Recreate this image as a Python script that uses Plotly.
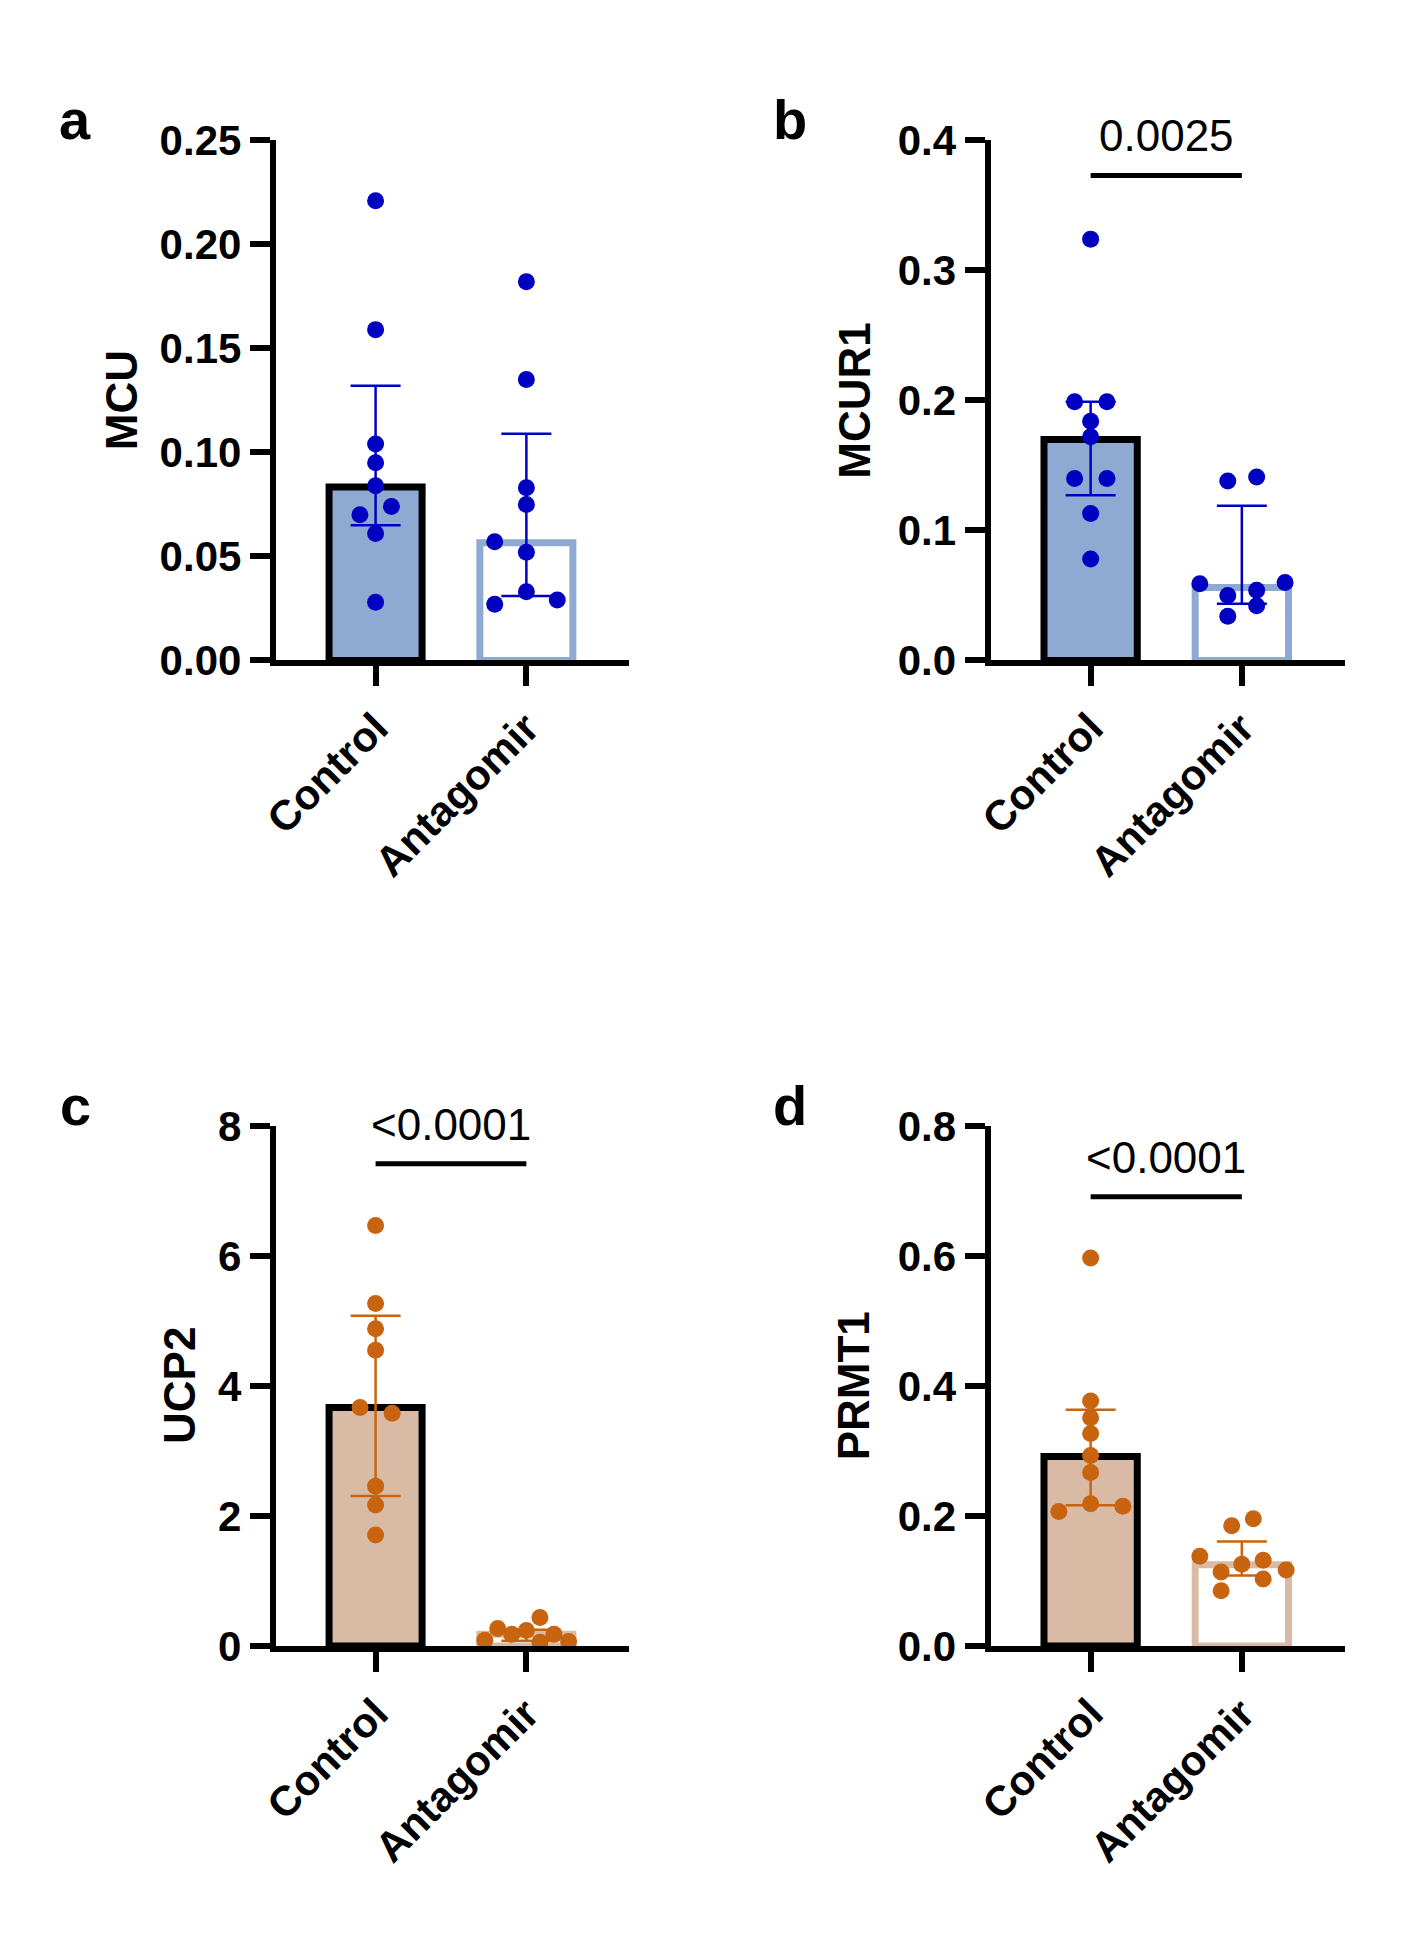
import plotly.graph_objects as go

# Groups (x categories)
groups = ['Control', 'Antagomir']

# Panel a - MCU
mcu_control = [0.221, 0.159, 0.104, 0.095, 0.084, 0.074, 0.070, 0.061, 0.028]
mcu_control_jitter = [0, 0, 0, 0, 0, 0.105, -0.104, 0, 0]
mcu_antagomir = [0.182, 0.135, 0.083, 0.075, 0.057, 0.052, 0.033, 0.029, 0.027]
mcu_antagomir_jitter = [0, 0, 0, 0, -0.21, 0, 0, 0.205, -0.21]
mcu_median = [0.0834, 0.0566]
mcu_q1 = [0.065, 0.031]
mcu_q3 = [0.132, 0.109]

# Panel b - MCUR1
mcur1_control = [0.324, 0.199, 0.199, 0.184, 0.172, 0.140, 0.140, 0.113, 0.078]
mcur1_control_jitter = [0, -0.106, 0.108, 0, 0, -0.106, 0.108, 0, 0]
mcur1_antagomir = [0.141, 0.138, 0.060, 0.059, 0.054, 0.050, 0.042, 0.034]
mcur1_antagomir_jitter = [0.098, -0.093, 0.286, -0.278, 0.098, -0.093, 0.098, -0.093]
mcur1_median = [0.170, 0.056]
mcur1_q1 = [0.127, 0.0435]
mcur1_q3 = [0.199, 0.119]
mcur1_p = '0.0025'
mcur1_sig_y = 0.373

# Panel c - UCP2
ucp2_control = [6.47, 5.27, 4.88, 4.55, 3.67, 3.58, 2.46, 2.17, 1.71]
ucp2_control_jitter = [0, 0, 0, 0, -0.103, 0.11, 0, 0, 0]
ucp2_antagomir = [0.44, 0.27, 0.24, 0.18, 0.18, 0.09, 0.06, 0.07]
ucp2_antagomir_jitter = [0.09, -0.19, 0, -0.097, 0.183, -0.276, 0.09, 0.28]
ucp2_median = [3.67, 0.18]
ucp2_q1 = [2.31, 0.08]
ucp2_q3 = [5.08, 0.25]
ucp2_p = '<0.0001'
ucp2_sig_y = 7.42

# Panel d - PRMT1
prmt1_control = [0.597, 0.377, 0.351, 0.327, 0.293, 0.267, 0.219, 0.207, 0.215]
prmt1_control_jitter = [0, 0, 0, 0, 0, 0, 0, -0.21, 0.213]
prmt1_antagomir = [0.196, 0.185, 0.138, 0.132, 0.126, 0.117, 0.114, 0.103, 0.085]
prmt1_antagomir_jitter = [0.076, -0.067, -0.278, 0.141, 0, 0.293, -0.137, 0.141, -0.137]
prmt1_median = [0.2915, 0.125]
prmt1_q1 = [0.2165, 0.1085]
prmt1_q3 = [0.3636, 0.1608]
prmt1_p = '<0.0001'
prmt1_sig_y = 0.691

BLUE_FILL = '#8EAAD3'
BLUE_DOT = '#0000C0'
TAN_FILL = '#D9BBA5'
ORANGE_DOT = '#C8640F'
FONT = 'Liberation Sans, Arial, sans-serif'

W, H = 1411, 1948
PAGE_PAD = 8  # default body margin of the html page


def px_x(p):
    return (p - PAGE_PAD) / W


def px_y(p):
    return 1 - (p - PAGE_PAD) / H


fig = go.Figure()


def add_panel(n, letter, title, title_gap, ctrl, ctrl_j, anta, anta_j, med, q1, q3,
              fill, dot, ymax, dtick, fmt, xdom, ydom, pval=None, sig_y=None):
    xa = 'x' if n == 1 else f'x{n}'
    ya = 'y' if n == 1 else f'y{n}'

    # bars (median)
    fig.add_trace(go.Bar(
        x=[0, 1], y=med, width=0.617, xaxis=xa, yaxis=ya,
        marker=dict(color=[fill, 'white'], line=dict(color=['black', fill], width=7)),
        showlegend=False,
    ))
    # interquartile range
    fig.add_trace(go.Scatter(
        x=[0, 1], y=med, mode='markers', xaxis=xa, yaxis=ya,
        marker=dict(size=1, color='rgba(0,0,0,0)'),
        error_y=dict(type='data', symmetric=False,
                     array=[q3[i] - med[i] for i in range(2)],
                     arrayminus=[med[i] - q1[i] for i in range(2)],
                     color=dot, thickness=2.5, width=25),
        showlegend=False, hoverinfo='skip',
    ))
    # individual points
    xs = [0 + j for j in ctrl_j] + [1 + j for j in anta_j]
    fig.add_trace(go.Scatter(
        x=xs, y=ctrl + anta, mode='markers', xaxis=xa, yaxis=ya,
        marker=dict(size=17, color=dot),
        showlegend=False, cliponaxis=False,
    ))

    axis_font = dict(family=FONT, size=42, color='black', weight='bold')
    fig.update_layout({
        ('xaxis' if n == 1 else f'xaxis{n}'): dict(
            domain=xdom, anchor=ya, range=[-0.662, 1.682],
            tickvals=[0, 1], ticktext=groups, tickangle=-45,
            showline=True, linewidth=6, linecolor='black',
            ticks='outside', ticklen=20, tickwidth=6, tickcolor='black',
            showgrid=False, zeroline=False, tickfont=axis_font,
        ),
        ('yaxis' if n == 1 else f'yaxis{n}'): dict(
            domain=ydom, anchor=xa, range=[0, ymax], dtick=dtick, tickformat=fmt,
            showline=True, linewidth=6, linecolor='black',
            ticks='outside', ticklen=20, tickwidth=6, tickcolor='black',
            showgrid=False, zeroline=False, tickfont=axis_font,
        ),
    })

    # axis title and panel letter
    fig.add_annotation(
        text=title, textangle=-90, xref='paper', yref='paper',
        x=xdom[0] - title_gap / W, y=(ydom[0] + ydom[1]) / 2,
        xanchor='center', yanchor='middle', showarrow=False,
        font=dict(family=FONT, size=44, color='black', weight='bold'),
    )
    fig.add_annotation(
        text=letter, xref='paper', yref='paper',
        x=xdom[0] - 203 / W, y=ydom[1] + 21 / H,
        xanchor='center', yanchor='middle', showarrow=False,
        font=dict(family=FONT, size=56, color='black', weight='bold'),
    )

    if pval is not None:
        fig.add_shape(type='line', xref=xa, yref=ya, x0=0, x1=1, y0=sig_y, y1=sig_y,
                      line=dict(color='black', width=5))
        fig.add_annotation(
            text=pval, xref=xa, yref=ya, x=0.5, y=sig_y, yanchor='bottom',
            yshift=13, showarrow=False,
            font=dict(family=FONT, size=44, color='black'),
        )


left = [px_x(261), px_x(619)]
right = [px_x(985), px_x(1344)]
top = [px_y(653), px_y(120)]
bottom = [px_y(1663), px_y(1130)]

add_panel(1, 'a', 'MCU', 156, mcu_control, mcu_control_jitter, mcu_antagomir, mcu_antagomir_jitter,
          mcu_median, mcu_q1, mcu_q3, BLUE_FILL, BLUE_DOT, 0.25, 0.05, '.2f', left, top)
add_panel(2, 'b', 'MCUR1', 138, mcur1_control, mcur1_control_jitter, mcur1_antagomir, mcur1_antagomir_jitter,
          mcur1_median, mcur1_q1, mcur1_q3, BLUE_FILL, BLUE_DOT, 0.4, 0.1, '.1f', right, top,
          mcur1_p, mcur1_sig_y)
add_panel(3, 'c', 'UCP2', 97, ucp2_control, ucp2_control_jitter, ucp2_antagomir, ucp2_antagomir_jitter,
          ucp2_median, ucp2_q1, ucp2_q3, TAN_FILL, ORANGE_DOT, 8, 2, 'd', left, bottom,
          ucp2_p, ucp2_sig_y)
add_panel(4, 'd', 'PRMT1', 138, prmt1_control, prmt1_control_jitter, prmt1_antagomir, prmt1_antagomir_jitter,
          prmt1_median, prmt1_q1, prmt1_q3, TAN_FILL, ORANGE_DOT, 0.8, 0.2, '.1f', right, bottom,
          prmt1_p, prmt1_sig_y)

fig.update_layout(
    width=W, height=H,
    margin=dict(l=0, r=0, t=0, b=0),
    paper_bgcolor='white', plot_bgcolor='white',
    barmode='overlay', showlegend=False,
)

fig.write_html('out.html')
